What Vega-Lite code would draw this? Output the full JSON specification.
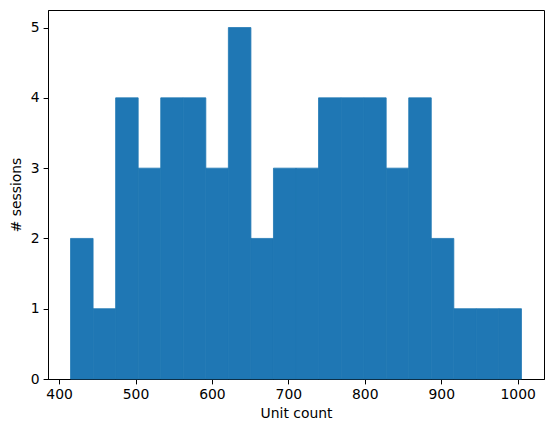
{
  "$schema": "https://vega.github.io/schema/vega-lite/v6.json",
  "width": 496,
  "height": 369,
  "autosize": {"type": "none"},
  "padding": {"left": 48, "top": 10, "right": 10, "bottom": 53},
  "background": "white",
  "config": {
    "view": {"stroke": "black", "strokeWidth": 1},
    "font": "DejaVu Sans",
    "axis": {
      "grid": false,
      "domainColor": "black",
      "domainWidth": 1,
      "tickColor": "black",
      "tickWidth": 1,
      "tickSize": 4.9,
      "labelPadding": 4,
      "labelFontSize": 13.9,
      "labelColor": "black",
      "labelFont": "DejaVu Sans",
      "titleFont": "DejaVu Sans",
      "titleFontSize": 13.9,
      "titleFontWeight": "normal",
      "titleColor": "black"
    }
  },
  "data": {
    "values": [
      {"start": 415.0, "end": 444.5, "count": 2},
      {"start": 444.5, "end": 474.0, "count": 1},
      {"start": 474.0, "end": 503.5, "count": 4},
      {"start": 503.5, "end": 533.0, "count": 3},
      {"start": 533.0, "end": 562.5, "count": 4},
      {"start": 562.5, "end": 592.0, "count": 4},
      {"start": 592.0, "end": 621.5, "count": 3},
      {"start": 621.5, "end": 651.0, "count": 5},
      {"start": 651.0, "end": 680.5, "count": 2},
      {"start": 680.5, "end": 710.0, "count": 3},
      {"start": 710.0, "end": 739.5, "count": 3},
      {"start": 739.5, "end": 769.0, "count": 4},
      {"start": 769.0, "end": 798.5, "count": 4},
      {"start": 798.5, "end": 828.0, "count": 4},
      {"start": 828.0, "end": 857.5, "count": 3},
      {"start": 857.5, "end": 887.0, "count": 4},
      {"start": 887.0, "end": 916.5, "count": 2},
      {"start": 916.5, "end": 946.0, "count": 1},
      {"start": 946.0, "end": 975.5, "count": 1},
      {"start": 975.5, "end": 1005.0, "count": 1}
    ]
  },
  "mark": {"type": "rect", "fill": "#1f77b4", "stroke": "#1f77b4", "strokeWidth": 0.8, "opacity": 1, "fillOpacity": 1, "strokeOpacity": 1},
  "encoding": {
    "x": {
      "field": "start",
      "type": "quantitative",
      "scale": {"domain": [385.5, 1034.5], "nice": false, "zero": false},
      "axis": {"values": [400, 500, 600, 700, 800, 900, 1000], "title": "Unit count", "titlePadding": 5, "format": "d"}
    },
    "x2": {"field": "end"},
    "y": {
      "field": "count",
      "type": "quantitative",
      "scale": {"domain": [0, 5.25], "nice": false},
      "axis": {"values": [0, 1, 2, 3, 4, 5], "title": "# sessions", "titlePadding": 7, "format": "d"}
    },
    "y2": {"datum": 0}
  }
}
